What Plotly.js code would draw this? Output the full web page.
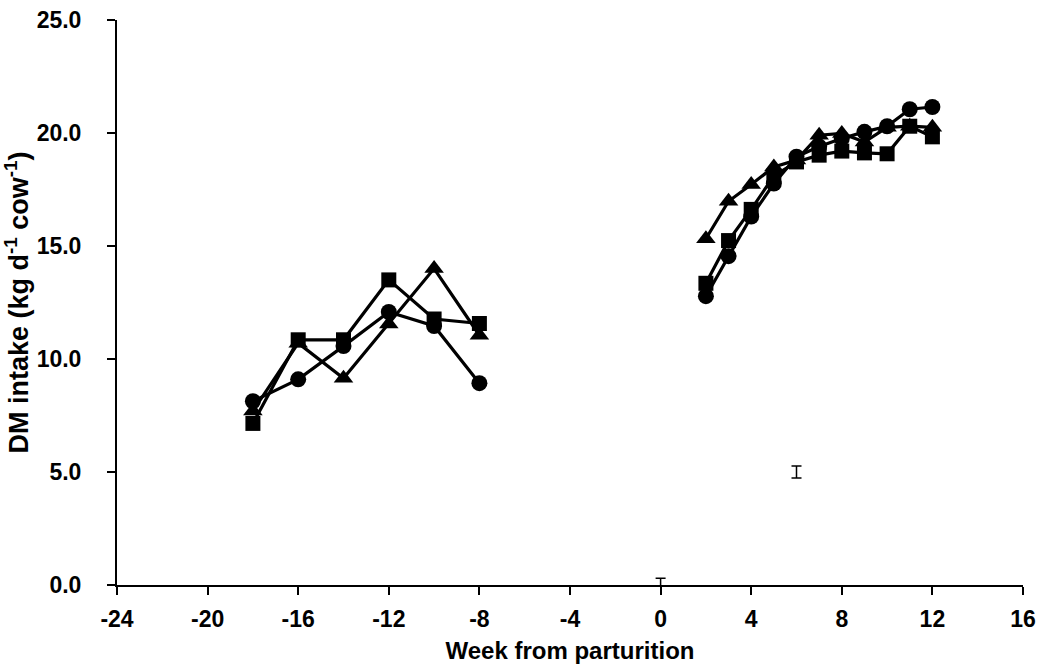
<!DOCTYPE html>
<html>
<head>
<meta charset="utf-8">
<script src="https://cdn.plot.ly/plotly-3.0.1.min.js"></script>
<style>html,body{margin:0;padding:0;background:#fff;}#chart{width:1045px;height:672px;}</style>
</head>
<body>
<div id="chart"></div>
<script>
var weeksPre = [-18, -16, -14, -12, -10, -8];
var weeksPost = [2, 3, 4, 5, 6, 7, 8, 9, 10, 11, 12];

var circlePre = [8.13, 9.1, 10.57, 12.08, 11.46, 8.93];
var squarePre = [7.15, 10.85, 10.85, 13.5, 11.77, 11.57];
var trianglePre = [7.7, 10.7, 9.15, 11.55, 14.0, 11.05];

var circlePost = [12.78, 14.55, 16.3, 17.76, 18.95, 19.4, 19.76, 20.05, 20.3, 21.05, 21.15];
var squarePost = [13.35, 15.24, 16.62, 18.1, 18.72, 19.02, 19.2, 19.12, 19.08, 20.3, 19.83];
var trianglePost = [15.32, 16.98, 17.72, 18.5, 18.8, 19.9, 19.98, 19.6, 20.25, 20.3, 20.25];

var seWeeks = [0, 6];
var seCenter = [0, 5];
var seValues = [0.3, 0.27];

var xTicks = [-24, -20, -16, -12, -8, -4, 0, 4, 8, 12, 16];
var yTicks = [0, 5, 10, 15, 20, 25];

var FONT = 'Liberation Sans, Arial, sans-serif';

function series(x, y, sym, sz) {
  return {
    x: x, y: y, type: 'scatter', mode: 'lines+markers',
    line: {color: '#000', width: 3.2},
    marker: {symbol: sym, size: sz, color: '#000'},
    showlegend: false, cliponaxis: false
  };
}

var data = [
  series(weeksPre, squarePre, 'square', 15),
  series(weeksPre, trianglePre, 'triangle-up', 17),
  series(weeksPre, circlePre, 'circle', 16),
  series(weeksPost, squarePost, 'square', 15),
  series(weeksPost, trianglePost, 'triangle-up', 17),
  series(weeksPost, circlePost, 'circle', 16),
  {
    x: seWeeks, y: seCenter, type: 'scatter', mode: 'markers',
    marker: {size: 0.1, color: 'rgba(0,0,0,0)'},
    error_y: {type: 'data', array: seValues, visible: true, color: '#000', thickness: 1.5, width: 5},
    showlegend: false
  }
];

var layout = {
  width: 1045, height: 672,
  margin: {l: 117, r: 22, t: 20, b: 87},
  paper_bgcolor: '#fff', plot_bgcolor: '#fff',
  font: {family: FONT, color: '#000'},
  showlegend: false,
  xaxis: {
    range: [-24, 16], tickvals: xTicks,
    ticktext: xTicks.map(function (v) { return '<b>' + v + '</b>'; }),
    showgrid: false, zeroline: false, showline: true, linecolor: '#000', linewidth: 2,
    ticks: 'outside', ticklen: 8, tickwidth: 2, tickcolor: '#000',
    ticklabelstandoff: 4,
    tickfont: {size: 23, family: FONT},
    title: {text: '<b>Week from parturition</b>', font: {size: 24, family: FONT}, standoff: 12}
  },
  yaxis: {
    range: [0, 25], tickvals: yTicks,
    ticktext: yTicks.map(function (v) { return '<b>' + v.toFixed(1) + '</b>'; }),
    showgrid: false, zeroline: false, showline: true, linecolor: '#000', linewidth: 2,
    ticks: 'outside', ticklen: 8, tickwidth: 2, tickcolor: '#000',
    ticklabelstandoff: 21,
    tickfont: {size: 23, family: FONT},
    title: {text: '<b>DM intake (kg d<sup>-1</sup> cow<sup>-1</sup>)</b>', font: {size: 27, family: FONT}, standoff: 4}
  }
};

Plotly.newPlot('chart', data, layout, {displayModeBar: false, staticPlot: true});
</script>
</body>
</html>
